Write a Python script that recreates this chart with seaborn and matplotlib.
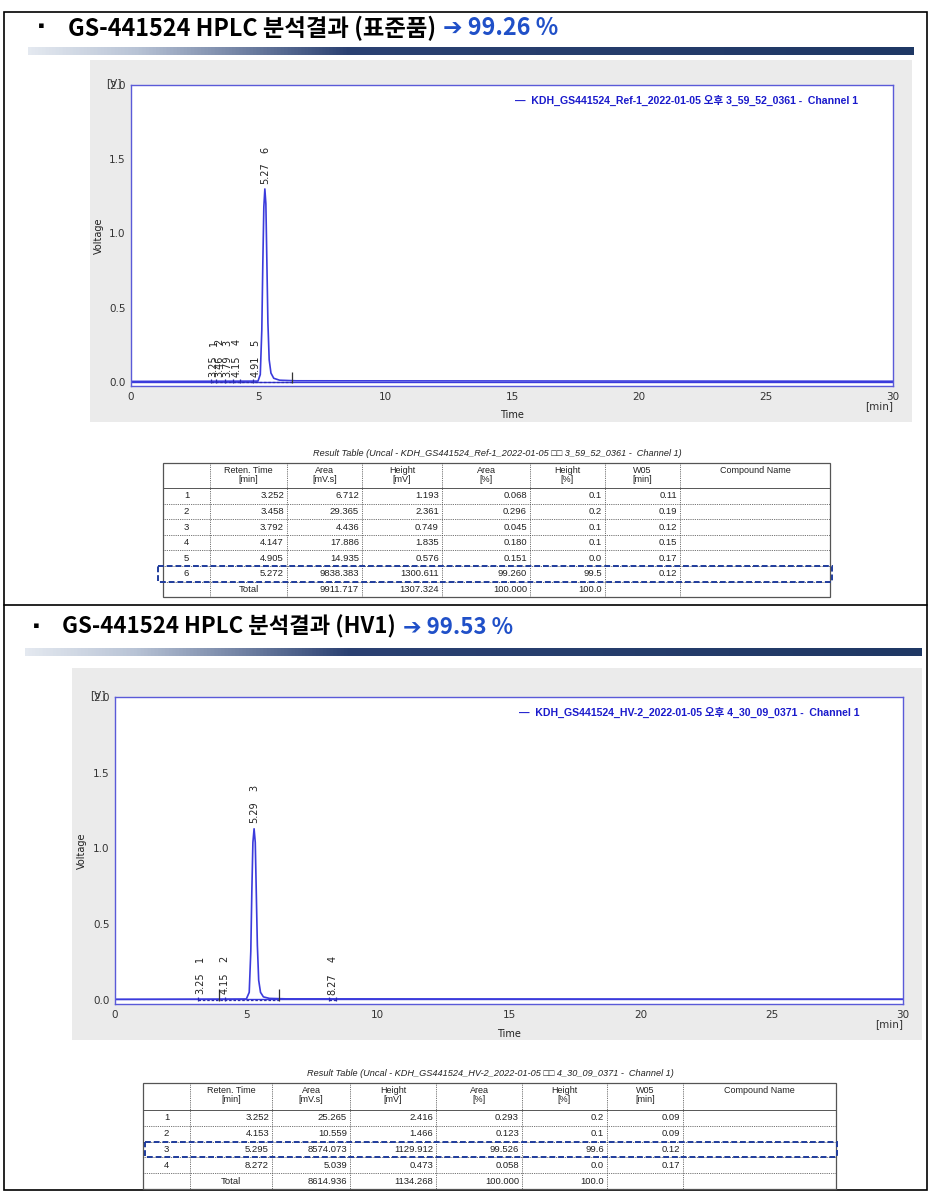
import numpy as np
import matplotlib
matplotlib.use("Agg")
import matplotlib.pyplot as plt
import seaborn as sns
from matplotlib.colors import LinearSegmentedColormap
from matplotlib.patches import Rectangle

# ---------------- DATA ----------------
# chromatogram traces (time [min], voltage [V])
ref_time = [0, 3.0, 5.0, 5.09, 5.15, 5.19, 5.23, 5.27, 5.31, 5.35, 5.39, 5.44, 5.51, 5.62, 5.85, 6.5, 30]
ref_volt = [0.004, 0.005, 0.006, 0.05, 0.35, 0.80, 1.18, 1.30, 1.20, 0.80, 0.40, 0.15, 0.06, 0.025, 0.012, 0.008, 0.005]
hv_time = [0, 3.0, 5.0, 5.11, 5.17, 5.21, 5.25, 5.295, 5.34, 5.38, 5.42, 5.47, 5.54, 5.65, 5.88, 6.5, 30]
hv_volt = [0.004, 0.005, 0.006, 0.05, 0.32, 0.72, 1.04, 1.13, 1.04, 0.70, 0.36, 0.13, 0.05, 0.02, 0.01, 0.007, 0.005]

# peak labels on the chromatograms
ref_labels = ["3.25", "3.46", "3.79", "4.15", "4.91", "5.27"]
hv_labels = ["3.25", "4.15", "5.29", "8.27"]

# integration markers (baseline segments and event ticks)
ref_base = [(3.13, 6.32)]
ref_events = [3.13, 3.36, 3.70, 4.02, 4.30, 4.82]
ref_events_tall = [6.32]
hv_base = [(3.15, 6.25), (8.15, 8.40)]
hv_events = [3.15, 4.20, 8.15, 8.40]
hv_events_tall = [3.95, 6.25]

# result tables
ref_rt = [3.252, 3.458, 3.792, 4.147, 4.905, 5.272]
ref_area = [6.712, 29.365, 4.436, 17.886, 14.935, 9838.383]
ref_height = [1.193, 2.361, 0.749, 1.835, 0.576, 1300.611]
ref_area_pct = [0.068, 0.296, 0.045, 0.180, 0.151, 99.260]
ref_height_pct = [0.1, 0.2, 0.1, 0.1, 0.0, 99.5]
ref_w05 = [0.11, 0.19, 0.12, 0.15, 0.17, 0.12]
ref_total = [9911.717, 1307.324, 100.000, 100.0]

hv_rt = [3.252, 4.153, 5.295, 8.272]
hv_area = [25.265, 10.559, 8574.073, 5.039]
hv_height = [2.416, 1.466, 1129.912, 0.473]
hv_area_pct = [0.293, 0.123, 99.526, 0.058]
hv_height_pct = [0.2, 0.1, 99.6, 0.0]
hv_w05 = [0.09, 0.09, 0.12, 0.17]
hv_total = [8614.936, 1134.268, 100.000, 100.0]

col_headers = ["", "Reten. Time\n[min]", "Area\n[mV.s]", "Height\n[mV]", "Area\n[%]",
               "Height\n[%]", "W05\n[min]", "Compound Name"]
col_fmt = ["{:.3f}", "{:.3f}", "{:.3f}", "{:.3f}", "{:.1f}", "{:.2f}"]

# ---------------- STYLE ----------------
sns.set_style("white")
plt.rcParams["font.family"] = ["DejaVu Sans", "Noto Sans CJK KR"]

W, H = 929, 1191
TRACE = "#3b3bdc"
AXIS = "#5a5ad8"
BLUE_TXT = "#1a1acc"
HL = "#1f3c9c"
KR = ["Noto Sans CJK KR", "DejaVu Sans"]
LEG = ["Liberation Sans", "Noto Sans CJK KR"]
TAB = ["Liberation Sans", "DejaVu Sans"]

fig = plt.figure(figsize=(W / 100, H / 100), dpi=100)
fig.patch.set_facecolor("white")


def px_axes(x0, y0, x1, y1):
    return fig.add_axes([x0 / W, 1 - y1 / H, (x1 - x0) / W, (y1 - y0) / H])


# background canvas in pixel units
bg = fig.add_axes([0, 0, 1, 1])
bg.set_xlim(0, W)
bg.set_ylim(H, 0)
bg.axis("off")
bg.set_zorder(0)

# frame
bg.add_patch(Rectangle((4, 12), 923, 1178, fill=False, ec="black", lw=1.2))
bg.plot([4, 927], [605, 605], color="black", lw=1.2)

bar_cmap = LinearSegmentedColormap.from_list(
    "bar", [(0, "#e4e9f0"), (0.12, "#b9c4d6"), (0.36, "#2b4172"), (1, "#1f3864")])
grad = np.linspace(0, 1, 512)[None, :]


def header(y, x_bullet, x_text, black, blue, size, bar):
    bg.text(x_bullet, y, "▪", fontsize=12, color="black", va="center", ha="center", family=KR)
    t = bg.text(x_text, y, black, fontsize=size, fontweight="bold", color="black",
                va="center", ha="left", family=KR)
    bg.annotate(blue, xy=(1, 0.5), xycoords=t, xytext=(5, 0), textcoords="offset points",
                fontsize=size, fontweight="bold", color="#2050c8", va="center", ha="left",
                family=KR)
    bx0, bx1, by0, by1 = bar
    bg.imshow(grad, extent=[bx0, bx1, by1, by0], aspect="auto", cmap=bar_cmap, zorder=1)


header(28, 41, 68, "GS-441524 HPLC 분석결과 (표준품)", "➔ 99.26 %", 16.8, (28, 914, 47, 55))
header(627, 36, 62, "GS-441524 HPLC 분석결과 (HV1)", "➔ 99.53 %", 16.0, (25, 922, 648, 656))

# grey chart panels
bg.add_patch(Rectangle((90, 60), 822, 362, fc="#ebebeb", ec="none"))
bg.add_patch(Rectangle((72, 668), 850, 372, fc="#ebebeb", ec="none"))
bg.set_xlim(0, W)
bg.set_ylim(H, 0)


# ---------------- CHROMATOGRAMS ----------------
def draw_chrom(ax, t, v, rts, labels, heights, base, events, events_tall, legend, leg_x, leg_y, lab_off):
    sns.lineplot(x=t, y=v, ax=ax, color=TRACE, linewidth=1.2, estimator=None, sort=False)
    ax.axhline(0.003, color=TRACE, lw=1.0, zorder=1)
    for s, e in base:
        ax.plot([s, e], [0.0, 0.0], color="#2a2ab0", lw=0.9, ls=(0, (2, 1.5)))
    ax.vlines(events, -0.006, 0.02, color="#2a2ab0", lw=0.9)
    ax.vlines(events_tall, -0.006, 0.07, color="#333333", lw=0.9)
    for i, (rt, lab, h) in enumerate(zip(rts, labels, heights)):
        ax.text(rt, h / 1000 + lab_off, lab, rotation=90, ha="center", va="bottom",
                fontsize=7, color="#222222")
        ax.text(rt, h / 1000 + lab_off + 0.235, str(i + 1), rotation=90, ha="center",
                va="center", fontsize=7, color="#222222")

    ax.set_xlim(0, 30)
    ax.set_ylim(-0.027, 2.0)
    ax.set_facecolor("white")
    for sp in ax.spines.values():
        sp.set_visible(True)
        sp.set_color(AXIS)
        sp.set_linewidth(1.0)
    ax.set_xticks([0, 5, 10, 15, 20, 25, 30])
    ax.set_xticklabels(["0", "5", "10", "15", "20", "25", "30"])
    ax.set_yticks([0, 0.5, 1.0, 1.5, 2.0])
    ax.set_yticklabels(["0.0", "0.5", "1.0", "1.5", "2.0"])
    ax.tick_params(axis="x", direction="in", length=3, color=AXIS, labelsize=7.5,
                   labelcolor="#333333", pad=4)
    ax.tick_params(axis="y", direction="out", length=3, color=AXIS, labelsize=7.5,
                   labelcolor="#333333", pad=1)
    ax.set_xlabel("Time", fontsize=7, color="#222222")
    ax.set_ylabel("Voltage", fontsize=7, color="#222222")
    ax.text(1.0, -0.05, "[min]", transform=ax.transAxes, ha="right", va="top",
            fontsize=7.5, color="#333333")
    ax.text(-0.012, 1.005, "[V]", transform=ax.transAxes, ha="right", va="center",
            fontsize=7.5, color="#333333")
    ax.text(leg_x, leg_y, "—  " + legend, transform=ax.transAxes, ha="right", va="center",
            fontsize=7.6, fontweight="bold", color=BLUE_TXT, family=LEG)


ax1 = px_axes(131, 85, 893, 386)
ax1.set_zorder(2)
draw_chrom(ax1, ref_time, ref_volt, ref_rt, ref_labels, ref_height, ref_base, ref_events,
           ref_events_tall, "KDH_GS441524_Ref-1_2022-01-05 오후 3_59_52_0361 -  Channel 1",
           0.954, 0.95, 0.03)
ax1.yaxis.set_label_coords(-0.036, 0.5)
ax1.xaxis.set_label_coords(0.5, -0.08)

ax2 = px_axes(115, 697, 903, 1004)
ax2.set_zorder(2)
draw_chrom(ax2, hv_time, hv_volt, hv_rt, hv_labels, hv_height, hv_base, hv_events,
           hv_events_tall, "KDH_GS441524_HV-2_2022-01-05 오후 4_30_09_0371 -  Channel 1",
           0.945, 0.951, 0.035)
ax2.yaxis.set_label_coords(-0.036, 0.5)
ax2.xaxis.set_label_coords(0.5, -0.08)


# ---------------- RESULT TABLES ----------------
def draw_table(title, title_x, edges, y_top, y_head, row_h, cols, total, hl_row, hl_x):
    n = len(cols[0])
    y_bot = y_head + (n + 1) * row_h
    x0, x1 = edges[0], edges[-1]
    bg.text(title_x, y_top - 10, title, ha="center", va="center", fontsize=6.6,
            style="italic", color="#222222", family=TAB)
    bg.add_patch(Rectangle((x0, y_top), x1 - x0, y_bot - y_top, fill=False,
                           ec="#555555", lw=0.9, zorder=3))
    for xe in edges[1:-1]:
        bg.plot([xe, xe], [y_top, y_bot], color="#444444", lw=0.6, ls=(0, (1, 1.2)), zorder=3)
    bg.plot([x0, x1], [y_head, y_head], color="#555555", lw=0.7, zorder=3)
    for r in range(1, n + 1):
        yy = y_head + r * row_h
        bg.plot([x0, x1], [yy, yy], color="#444444", lw=0.6, ls=(0, (1, 1.2)), zorder=3)
    for c, hdr in enumerate(col_headers):
        xc = (edges[c] + edges[c + 1]) / 2
        bg.text(xc, y_top + 3, hdr, ha="center", va="top", fontsize=6.5,
                color="#222222", family=TAB, linespacing=1.05)
    for r in range(n):
        yc = y_head + (r + 0.5) * row_h
        bg.text((edges[0] + edges[1]) / 2, yc, str(r + 1), ha="center", va="center",
                fontsize=6.8, color="#222222", family=TAB)
        for c in range(6):
            bg.text(edges[c + 2] - 3, yc, col_fmt[c].format(cols[c][r]), ha="right",
                    va="center", fontsize=6.8, color="#222222", family=TAB)
    yc = y_head + (n + 0.5) * row_h
    bg.text((edges[1] + edges[2]) / 2, yc, "Total", ha="center", va="center",
            fontsize=6.8, color="#222222", family=TAB)
    tot_fmt = ["{:.3f}", "{:.3f}", "{:.3f}", "{:.1f}"]
    for c in range(4):
        bg.text(edges[c + 3] - 3, yc, tot_fmt[c].format(total[c]), ha="right", va="center",
                fontsize=6.8, color="#222222", family=TAB)
    hy = y_head + hl_row * row_h
    bg.add_patch(Rectangle((hl_x[0], hy), hl_x[1] - hl_x[0], row_h, fill=False, ec=HL,
                           lw=1.4, ls=(0, (3, 1.5)), zorder=4))


draw_table("Result Table (Uncal - KDH_GS441524_Ref-1_2022-01-05 □□ 3_59_52_0361 -  Channel 1)",
           497, [163, 210, 287, 362, 442, 530, 605, 680, 830], 463, 488, 15.6,
           [ref_rt, ref_area, ref_height, ref_area_pct, ref_height_pct, ref_w05],
           ref_total, 5, (158, 832))
draw_table("Result Table (Uncal - KDH_GS441524_HV-2_2022-01-05 □□ 4_30_09_0371 -  Channel 1)",
           490, [143, 190, 272, 350, 436, 522, 607, 683, 836], 1083, 1110, 15.8,
           [hv_rt, hv_area, hv_height, hv_area_pct, hv_height_pct, hv_w05],
           hv_total, 2, (145, 837))

fig.savefig("out.png", dpi=100)
